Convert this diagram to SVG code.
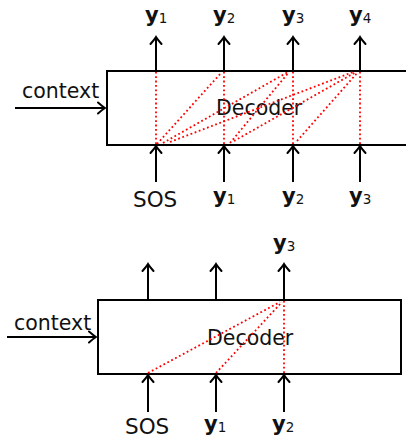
<svg xmlns="http://www.w3.org/2000/svg" width="406" height="439" viewBox="0 0 406 439">
<style>
text{font-family:"DejaVu Sans","Liberation Sans",sans-serif;fill:#111}
.lbl{font-size:20.5px}
.sos{font-size:21.5px}
.yb{font-size:21px;font-weight:bold}
.sub{font-size:13.5px;font-weight:normal}
.box{fill:#fff;stroke:#000;stroke-width:2}
.arr{stroke:#000;stroke-width:2;fill:none;marker-end:url(#ah)}
.dot{stroke:#f00;stroke-width:1.8;stroke-dasharray:1.8 2.6;fill:none}
</style>
<defs>
<marker id="ah" markerUnits="userSpaceOnUse" markerWidth="14" markerHeight="14" viewBox="-8 -7 10 14" refX="0" refY="0" orient="auto">
<path d="M -7 -5.5 Q -2.5 -1.5 0 0 Q -2.5 1.5 -7 5.5" fill="none" stroke="#000" stroke-width="2" stroke-linecap="round"/>
</marker>
</defs>

<g id="top-decoder">
<rect class="box" x="107" y="71" width="310" height="74"/>
<text class="lbl" x="216" y="115">Decoder</text>
</g>
<g id="top-context"><text class="lbl" x="22" y="98">context</text></g>
<g id="top-out-labels">
<text class="yb" x="145" y="22">y<tspan class="sub" dy="1">1</tspan></text>
<text class="yb" x="213" y="22">y<tspan class="sub" dy="1">2</tspan></text>
<text class="yb" x="282" y="22">y<tspan class="sub" dy="1">3</tspan></text>
<text class="yb" x="349" y="22">y<tspan class="sub" dy="1">4</tspan></text>
</g>
<g id="top-in-labels">
<text class="sos" x="133" y="207">SOS</text>
<text class="yb" x="213" y="203">y<tspan class="sub" dy="1">1</tspan></text>
<text class="yb" x="282" y="203">y<tspan class="sub" dy="1">2</tspan></text>
<text class="yb" x="349" y="203">y<tspan class="sub" dy="1">3</tspan></text>
</g>

<g id="bottom-decoder">
<rect class="box" x="98" y="300" width="303" height="74"/>
<text class="lbl" x="207" y="345">Decoder</text>
</g>
<g id="bottom-context"><text class="lbl" x="14" y="330">context</text></g>
<g id="bottom-out-labels">
<text class="yb" x="273" y="250">y<tspan class="sub" dy="1">3</tspan></text>
</g>
<g id="bottom-in-labels">
<text class="sos" x="125" y="434">SOS</text>
<text class="yb" x="204" y="431">y<tspan class="sub" dy="1">1</tspan></text>
<text class="yb" x="272" y="431">y<tspan class="sub" dy="1">2</tspan></text>
</g>

<g id="connectors">
<line class="arr" x1="15" y1="108" x2="105" y2="108"/>
<line class="arr" x1="156" y1="71" x2="156" y2="37"/>
<line class="arr" x1="224" y1="71" x2="224" y2="37"/>
<line class="arr" x1="293" y1="71" x2="293" y2="37"/>
<line class="arr" x1="360" y1="71" x2="360" y2="37"/>
<line class="arr" x1="156" y1="182" x2="156" y2="146"/>
<line class="arr" x1="224" y1="182" x2="224" y2="146"/>
<line class="arr" x1="293" y1="182" x2="293" y2="146"/>
<line class="arr" x1="360" y1="182" x2="360" y2="146"/>

<line class="dot" x1="156" y1="144" x2="156" y2="72"/>
<line class="dot" x1="224" y1="144" x2="224" y2="72"/>
<line class="dot" x1="293" y1="144" x2="293" y2="72"/>
<line class="dot" x1="360" y1="144" x2="360" y2="72"/>
<line class="dot" x1="157" y1="144" x2="221" y2="73"/>
<line class="dot" x1="163" y1="143" x2="288" y2="72"/>
<line class="dot" x1="170" y1="142" x2="353" y2="72"/>
<line class="dot" x1="230" y1="143" x2="289" y2="72"/>
<line class="dot" x1="234" y1="141" x2="356" y2="72"/>
<line class="dot" x1="297" y1="141" x2="358" y2="72"/>

<line class="arr" x1="7" y1="337" x2="96" y2="337"/>
<line class="arr" x1="148" y1="300" x2="148" y2="264"/>
<line class="arr" x1="216" y1="300" x2="216" y2="264"/>
<line class="arr" x1="284" y1="300" x2="284" y2="264"/>
<line class="arr" x1="148" y1="412" x2="148" y2="375"/>
<line class="arr" x1="216" y1="412" x2="216" y2="375"/>
<line class="arr" x1="284" y1="412" x2="284" y2="375"/>

<line class="dot" x1="148" y1="373" x2="280" y2="302"/>
<line class="dot" x1="216" y1="373" x2="282" y2="302"/>
<line class="dot" x1="284" y1="373" x2="284" y2="301"/>
</g>
</svg>
